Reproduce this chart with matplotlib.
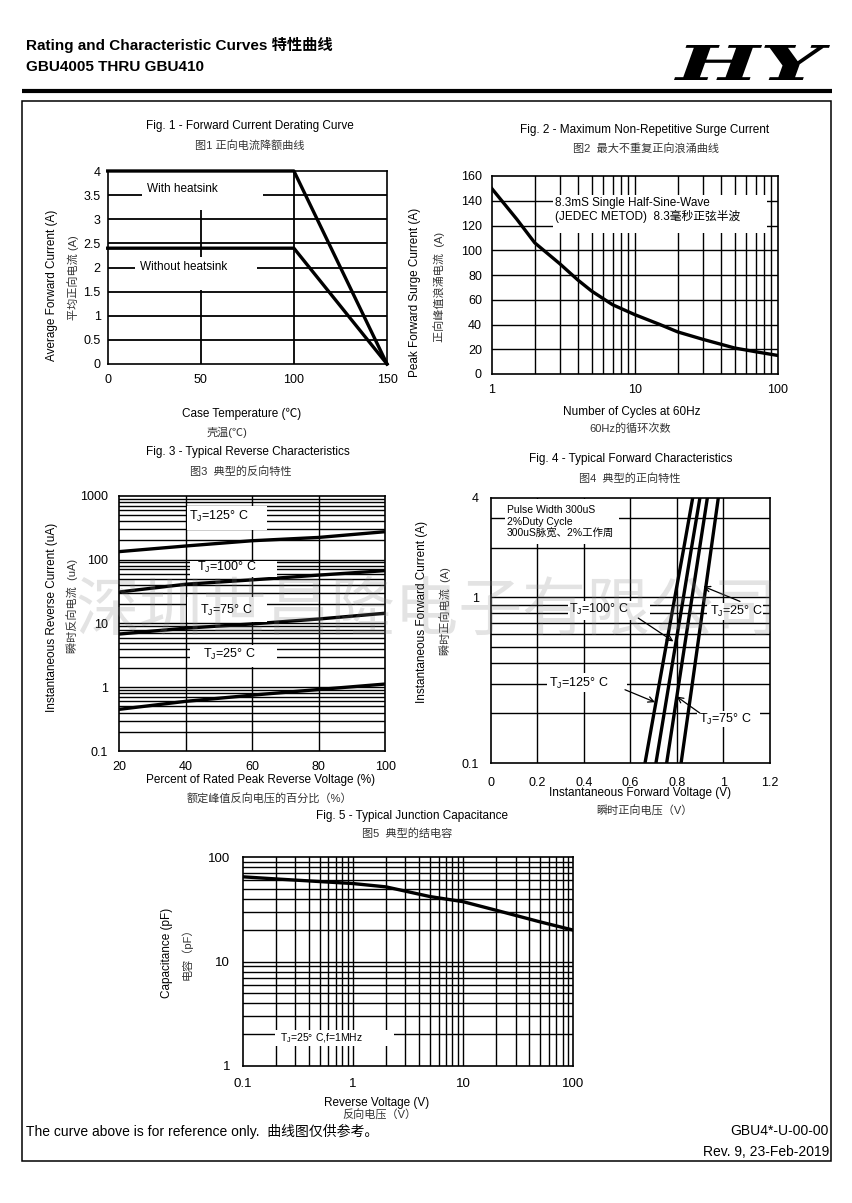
import matplotlib
matplotlib.use("Agg")
import matplotlib.pyplot as plt
from matplotlib.patches import Rectangle, PathPatch
from matplotlib.textpath import TextPath
from matplotlib.font_manager import FontProperties
from matplotlib.transforms import Affine2D
from matplotlib.ticker import NullLocator, FixedLocator, FixedFormatter

plt.rcParams['font.family'] = ['Liberation Sans', 'Noto Sans CJK SC', 'DejaVu Sans']
plt.rcParams['mathtext.fontset'] = 'custom'
plt.rcParams['mathtext.rm'] = 'Liberation Sans'

# ---------------- data ----------------
# Fig 1
temp_pts = [0, 100, 150]
with_heatsink = [4.0, 4.0, 0.0]
without_heatsink = [2.4, 2.4, 0.0]
# Fig 2
cycles = [1, 1.5, 2, 3, 4, 5, 7, 10, 15, 20, 30, 50, 70, 100]
surge_current = [150, 125, 106, 89, 76, 67, 56, 48, 40, 34, 28, 21, 18, 15]
# Fig 3
pct_voltage = [20, 40, 60, 80, 100]
ir_125 = [133, 163, 197, 222, 273]
ir_100 = [31, 41, 48, 57, 67]
ir_75 = [6.8, 8.4, 9.8, 11.7, 14.4]
ir_25 = [0.45, 0.60, 0.75, 0.92, 1.12]
# Fig 4
if_pts = [0.1, 0.3, 1, 2, 4]
vf_125 = [0.663, 0.724, 0.791, 0.830, 0.868]
vf_100 = [0.710, 0.766, 0.828, 0.863, 0.899]
vf_75 = [0.756, 0.808, 0.865, 0.898, 0.931]
vf_25 = [0.818, 0.866, 0.918, 0.948, 0.978]
# Fig 5
vr_pts = [0.1, 0.2, 0.5, 1, 2, 5, 10, 20, 50, 100]
cap_pf = [65, 62, 58.5, 56, 52, 42, 37.5, 31, 24, 20]

# ---------------- figure ----------------
W, H = 852, 1203
fig = plt.figure(figsize=(W / 100, H / 100), dpi=100)
fig.patch.set_facecolor('white')

ov = fig.add_axes([0, 0, 1, 1], zorder=20)
ov.set_xlim(0, W)
ov.set_ylim(H, 0)
ov.axis('off')
ov.patch.set_alpha(0)


def add_ax(l, t, r, b):
    return fig.add_axes([l / W, 1 - b / H, (r - l) / W, (b - t) / H])


GRID_LW = 1.0
CURVE_LW = 2.4
CN = '#333333'


def style(ax, xpad, ypad, size=9):
    for s in ax.spines.values():
        s.set_linewidth(1.2)
        s.set_zorder(5)
    ax.tick_params(which='both', length=0, labelsize=size)
    ax.tick_params(axis='x', pad=xpad)
    ax.tick_params(axis='y', pad=ypad)
    ax.xaxis.set_minor_locator(NullLocator())
    ax.yaxis.set_minor_locator(NullLocator())


def hgrid(ax, vals, lw=GRID_LW):
    for v in vals:
        ax.axhline(v, color='black', lw=lw, zorder=1)


def vgrid(ax, vals, lw=GRID_LW):
    for v in vals:
        ax.axvline(v, color='black', lw=lw, zorder=1)


def wbox(ax, x0, x1, y0, y1, z=2):
    ax.add_patch(Rectangle((x0, y0), x1 - x0, y1 - y0, facecolor='white',
                           edgecolor='none', zorder=z))


def tj(t):
    return r"T$_\mathregular{J}$=" + t + "° C"


# ---------------- Fig 1 ----------------
ax1 = add_ax(107.7, 171, 387, 364)
ax1.set_xlim(0, 150)
ax1.set_ylim(0, 4)
style(ax1, 7, 5)
ax1.set_xticks([0, 50, 100, 150])
ax1.set_yticks([0, 0.5, 1, 1.5, 2, 2.5, 3, 3.5, 4])
ax1.set_yticklabels(['0', '0.5', '1', '1.5', '2', '2.5', '3', '3.5', '4'])
hgrid(ax1, [0.5, 1, 1.5, 2, 2.5, 3, 3.5], lw=1.3)
vgrid(ax1, [50, 100], lw=1.3)
wbox(ax1, 18.4, 83.4, 3.2, 3.97)
wbox(ax1, 14.7, 80, 1.53, 2.22)
ax1.plot(temp_pts, with_heatsink, color='black', lw=CURVE_LW, zorder=3, clip_on=False)
ax1.plot(temp_pts, without_heatsink, color='black', lw=CURVE_LW, zorder=3, clip_on=False)
ax1.text(21, 3.62, 'With heatsink', fontsize=8.5, va='center', zorder=4)
ax1.text(17.3, 2.0, 'Without heatsink', fontsize=8.5, va='center', zorder=4)

ov.text(250, 126, 'Fig. 1 - Forward Current Derating Curve', fontsize=8.5, ha='center', va='center')
ov.text(250, 145, '图1 正向电流降额曲线', fontsize=8, ha='center', va='center', color=CN)
ov.text(242, 414, 'Case Temperature (℃)', fontsize=8.5, ha='center', va='center')
ov.text(227, 432, '壳温(℃)', fontsize=8, ha='center', va='center', color=CN)
ov.text(52, 285, 'Average Forward Current (A)', fontsize=8.5, ha='center', va='center', rotation=90)
ov.text(73, 278, '平均正向电流 (A)', fontsize=8, ha='center', va='center', rotation=90, color=CN)

# ---------------- Fig 2 ----------------
ax2 = add_ax(491.7, 176, 777.7, 374)
ax2.set_xscale('log')
ax2.set_xlim(1, 100)
ax2.set_ylim(0, 160)
style(ax2, 7, 7)
ax2.xaxis.set_major_locator(FixedLocator([1, 10, 100]))
ax2.xaxis.set_major_formatter(FixedFormatter(['1', '10', '100']))
ax2.xaxis.set_minor_locator(NullLocator())
ax2.set_yticks(list(range(0, 161, 20)))
hgrid(ax2, list(range(20, 160, 20)))
vgrid(ax2, [2, 3, 4, 5, 6, 7, 8, 9, 10, 20, 30, 40, 50, 60, 70, 80, 90])
wbox(ax2, 2.7, 84, 113.7, 145)
ax2.plot(cycles, surge_current, color='black', lw=CURVE_LW, zorder=3)
ax2.text(2.77, 138.2, '8.3mS Single Half-Sine-Wave', fontsize=8.5, va='center', zorder=4)
ax2.text(2.77, 127.5, '(JEDEC METOD)  8.3毫秒正弦半波', fontsize=8.5, va='center', zorder=4)

ov.text(645, 130, 'Fig. 2 - Maximum Non-Repetitive Surge Current', fontsize=8.5, ha='center', va='center')
ov.text(646, 149, '图2  最大不重复正向浪涌曲线', fontsize=8, ha='center', va='center', color=CN)
ov.text(632, 412, 'Number of Cycles at 60Hz', fontsize=8.5, ha='center', va='center')
ov.text(630, 428, '60Hz的循环次数', fontsize=8, ha='center', va='center', color=CN)
ov.text(415, 292, 'Peak Forward Surge Current (A)', fontsize=8.5, ha='center', va='center', rotation=90)
ov.text(439, 287, '正向峰值浪涌电流  (A)', fontsize=8, ha='center', va='center', rotation=90, color=CN)

# ---------------- Fig 3 ----------------
ax3 = add_ax(119.3, 495.7, 385.3, 751)
ax3.set_yscale('log')
ax3.set_xlim(20, 100)
ax3.set_ylim(0.1, 1000)
style(ax3, 7, 8)
ax3.set_xticks([20, 40, 60, 80, 100])
ax3.yaxis.set_major_locator(FixedLocator([0.1, 1, 10, 100, 1000]))
ax3.yaxis.set_major_formatter(FixedFormatter(['0.1', '1', '10', '100', '1000']))
ax3.yaxis.set_minor_locator(NullLocator())
ylog = []
for d in [0.1, 1, 10, 100]:
    ylog += [d * k for k in range(1, 10)]
hgrid(ax3, ylog[1:])
vgrid(ax3, [40, 60, 80])
ax3.plot(pct_voltage, ir_125, color='black', lw=CURVE_LW, zorder=3)
ax3.plot(pct_voltage, ir_100, color='black', lw=CURVE_LW, zorder=3)
ax3.plot(pct_voltage, ir_75, color='black', lw=CURVE_LW, zorder=3)
ax3.plot(pct_voltage, ir_25, color='black', lw=CURVE_LW, zorder=3)
wbox(ax3, 40.3, 64.3, 290, 700, z=3.5)
wbox(ax3, 41.3, 67.3, 53, 96, z=3.5)
wbox(ax3, 40.3, 64.3, 10.6, 26, z=3.5)
wbox(ax3, 41.3, 67.3, 2.1, 4.6, z=3.5)
ax3.text(50, 470, tj('125'), fontsize=9, ha='center', va='center', zorder=4)
ax3.text(52.3, 75, tj('100'), fontsize=9, ha='center', va='center', zorder=4)
ax3.text(52.3, 15.8, tj('75'), fontsize=9, ha='center', va='center', zorder=4)
ax3.text(53, 3.3, tj('25'), fontsize=9, ha='center', va='center', zorder=4)

ov.text(248, 452, 'Fig. 3 - Typical Reverse Characteristics', fontsize=8.5, ha='center', va='center')
ov.text(241, 471, '图3  典型的反向特性', fontsize=8, ha='center', va='center', color=CN)
ov.text(261, 780, 'Percent of Rated Peak Reverse Voltage (%)', fontsize=8.5, ha='center', va='center')
ov.text(269, 799, '额定峰值反向电压的百分比（%）', fontsize=8, ha='center', va='center', color=CN)
ov.text(52, 617, 'Instantaneous Reverse Current (uA)', fontsize=8.5, ha='center', va='center', rotation=90)
ov.text(72, 606, '瞬时反向电流  (uA)', fontsize=8, ha='center', va='center', rotation=90, color=CN)

# ---------------- Fig 4 ----------------
ax4 = add_ax(490.7, 497.7, 770, 763)
ax4.set_yscale('log')
ax4.set_xlim(0, 1.2)
ax4.set_ylim(0.1, 4)
style(ax4, 10, 8.5)
ax4.set_xticks([0, 0.2, 0.4, 0.6, 0.8, 1.0, 1.2])
ax4.set_xticklabels(['0', '0.2', '0.4', '0.6', '0.8', '1', '1.2'])
ax4.yaxis.set_major_locator(FixedLocator([0.1, 1, 4]))
ax4.yaxis.set_major_formatter(FixedFormatter(['0.1', '1', '4']))
ax4.yaxis.set_minor_locator(NullLocator())
hgrid(ax4, [0.2, 0.3, 0.4, 0.5, 0.6, 0.7, 0.8, 0.9, 1, 2, 3])
vgrid(ax4, [0.2, 0.4, 0.6, 0.8, 1.0])
wbox(ax4, 0.06, 0.55, 2.1, 3.95)
wbox(ax4, 0.33, 0.685, 0.73, 0.95)
wbox(ax4, 0.93, 1.17, 0.73, 0.93)
wbox(ax4, 0.24, 0.584, 0.27, 0.35)
wbox(ax4, 0.885, 1.157, 0.165, 0.205)
for vf in (vf_125, vf_100, vf_75, vf_25):
    ax4.plot(vf, if_pts, color='black', lw=CURVE_LW, zorder=3)
ax4.text(0.07, 3.37, 'Pulse Width 300uS', fontsize=7.5, va='center', zorder=4)
ax4.text(0.07, 2.85, '2%Duty Cycle', fontsize=7.5, va='center', zorder=4)
ax4.text(0.07, 2.42, '300uS脉宽、2%工作周', fontsize=7.5, va='center', zorder=4)
ax4.text(0.463, 0.843, tj('100'), fontsize=9, ha='center', va='center', zorder=4)
ax4.text(1.057, 0.823, tj('25'), fontsize=9, ha='center', va='center', zorder=4)
ax4.text(0.377, 0.304, tj('125'), fontsize=9, ha='center', va='center', zorder=4)
ax4.text(1.007, 0.183, tj('75'), fontsize=9, ha='center', va='center', zorder=4)
arrow_kw = dict(arrowstyle='->', color='black', lw=0.9, shrinkA=0, shrinkB=0)
ax4.annotate('', xy=(0.785, 0.542), xytext=(0.634, 0.75), arrowprops=arrow_kw, zorder=4)
ax4.annotate('', xy=(0.914, 1.165), xytext=(1.071, 0.946), arrowprops=arrow_kw, zorder=4)
ax4.annotate('', xy=(0.706, 0.233), xytext=(0.577, 0.277), arrowprops=arrow_kw, zorder=4)
ax4.annotate('', xy=(0.799, 0.252), xytext=(0.899, 0.2), arrowprops=arrow_kw, zorder=4)

ov.text(631, 459, 'Fig. 4 - Typical Forward Characteristics', fontsize=8.5, ha='center', va='center')
ov.text(630, 478, '图4  典型的正向特性', fontsize=8, ha='center', va='center', color=CN)
ov.text(640, 793, 'Instantaneous Forward Voltage (V)', fontsize=8.5, ha='center', va='center')
ov.text(644, 811, '瞬时正向电压（V）', fontsize=8, ha='center', va='center', color=CN)
ov.text(422, 612, 'Instantaneous Forward Current (A)', fontsize=8.5, ha='center', va='center', rotation=90)
ov.text(445, 611, '瞬时正向电流  (A)', fontsize=8, ha='center', va='center', rotation=90, color=CN)

# ---------------- Fig 5 ----------------
ax5 = add_ax(242.7, 857.3, 573.3, 1065.7)
ax5.set_xscale('log')
ax5.set_yscale('log')
ax5.set_xlim(0.1, 100)
ax5.set_ylim(1, 100)
style(ax5, 9, 9, size=9.5)
ax5.xaxis.set_major_locator(FixedLocator([0.1, 1, 10, 100]))
ax5.xaxis.set_major_formatter(FixedFormatter(['0.1', '1', '10', '100']))
ax5.yaxis.set_major_locator(FixedLocator([1, 10, 100]))
ax5.yaxis.set_major_formatter(FixedFormatter(['1', '10', '100']))
ax5.xaxis.set_minor_locator(NullLocator())
ax5.yaxis.set_minor_locator(NullLocator())
xg = []
for d in [0.1, 1, 10]:
    xg += [d * k for k in range(1, 10)]
yg = []
for d in [1, 10]:
    yg += [d * k for k in range(1, 10)]
vgrid(ax5, xg[1:])
hgrid(ax5, yg[1:])
wbox(ax5, 0.195, 2.35, 1.55, 2.2)
ax5.plot(vr_pts, cap_pf, color='black', lw=CURVE_LW, zorder=3)
ax5.text(0.218, 1.83, tj('25') + ',f=1MHz', fontsize=7.5, va='center', zorder=4)

ov.text(412, 816, 'Fig. 5 - Typical Junction Capacitance', fontsize=8.5, ha='center', va='center')
ov.text(407, 834, '图5  典型的结电容', fontsize=8, ha='center', va='center', color=CN)
ov.text(377, 1103, 'Reverse Voltage (V)', fontsize=8.5, ha='center', va='center')
ov.text(379, 1115, '反向电压（V）', fontsize=8, ha='center', va='center', color=CN)
ov.text(167, 953, 'Capacitance (pF)', fontsize=8.5, ha='center', va='center', rotation=90)
ov.text(187, 951, '电容（pF）', fontsize=8, ha='center', va='center', rotation=90, color=CN)

# ---------------- page furniture ----------------
ov.text(26, 45, 'Rating and Characteristic Curves 特性曲线', fontsize=11, fontweight='bold',
        ha='left', va='center')
ov.text(26, 67, 'GBU4005 THRU GBU410', fontsize=11, fontweight='bold', ha='left', va='center')

# HY logo
tp = TextPath((0, 0), 'HY', size=40,
              prop=FontProperties(family='DejaVu Serif', weight='bold', style='italic'))
bb = tp.get_extents()
lx0, lx1, ly0, ly1 = 674, 830, 45, 80
tr = (Affine2D().translate(-bb.x0, -bb.y0)
      .scale((lx1 - lx0) / bb.width, -(ly1 - ly0) / bb.height)
      .translate(lx0, ly1))
ov.add_patch(PathPatch(tr.transform_path(tp), facecolor='black', edgecolor='none'))

ov.plot([22, 832], [91, 91], color='black', lw=3.0, solid_capstyle='butt')
ov.add_patch(Rectangle((22, 100.5), 809, 1060.5, facecolor='none', edgecolor='black', lw=1.1))

ov.text(26, 1131, 'The curve above is for reference only.  曲线图仅供参考。', fontsize=10,
        ha='left', va='center')
ov.text(829, 1131, 'GBU4*-U-00-00', fontsize=10, ha='right', va='center')
ov.text(829, 1152, 'Rev. 9, 23-Feb-2019', fontsize=10, ha='right', va='center')

# watermark
ov.text(427, 612, '深圳世昌隆电子有限公司', fontsize=46, color='#808080', alpha=0.22,
        ha='center', va='center', family=['Noto Sans CJK SC'])

fig.savefig('out.png', dpi=100, facecolor='white')
